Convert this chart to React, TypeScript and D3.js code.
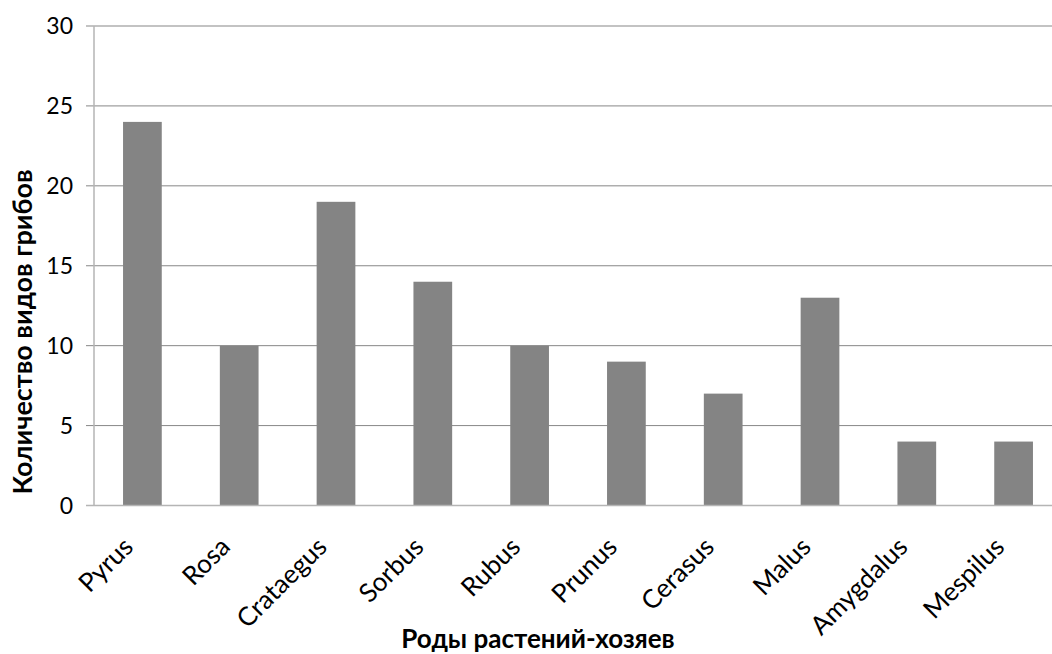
import React from "react";
import * as d3 from "d3";

const categories = ["Pyrus", "Rosa", "Crataegus", "Sorbus", "Rubus", "Prunus", "Cerasus", "Malus", "Amygdalus", "Mespilus"];
const values = [24, 10, 19, 14, 10, 9, 7, 13, 4, 4];
const yTicks = [0, 5, 10, 15, 20, 25, 30];
const yTitle = "Количество видов грибов";
const xTitle = "Роды растений-хозяев";

const W = 1052;
const H = 654;
const left = 94;
const right = 1062;
const top = 26;
const bottom = 505.5;
const FONT = "Lato, 'Open Sans', sans-serif";

export default function App() {
  const x = d3.scaleBand<string>().domain(categories).range([left, right]).paddingInner(0.6).paddingOuter(0.3);
  const y = d3.scaleLinear().domain([0, 30]).range([bottom, top]);
  return (
    <div style={{ position: "absolute", left: 0, top: 0 }}>
      <svg width={W} height={H} style={{ display: "block", background: "#fff" }}>
        {yTicks.map((t) => (
          <g key={t}>
            {t > 0 && <line x1={left} x2={right} y1={y(t)} y2={y(t)} stroke="#878787" strokeWidth={1} />}
            <line x1={86} x2={left} y1={y(t)} y2={y(t)} stroke="#878787" strokeWidth={1} />
            <text x={73} y={y(t)} dy="0.36em" textAnchor="end" fontFamily={FONT} fontSize={23} fill="#000">{t}</text>
          </g>
        ))}
        {categories.map((c, i) => (
          <rect key={c} x={x(c)} y={y(values[i])} width={x.bandwidth()} height={bottom - y(values[i])} fill="#848484" />
        ))}
        <line x1={left} x2={left} y1={top} y2={bottom} stroke="#b5b5b5" strokeWidth={1.5} />
        <line x1={86} x2={right} y1={bottom} y2={bottom} stroke="#b5b5b5" strokeWidth={1.5} />
        {categories.map((c) => {
          const cx = (x(c) as number) + x.bandwidth() / 2 - 14;
          const cy = 542;
          return (
            <text key={c} x={cx} y={cy} textAnchor="end" dy="0.35em" transform={`rotate(-45 ${cx} ${cy})`} fontFamily={FONT} fontSize={26} fill="#000">{c}</text>
          );
        })}
        <text x={538} y={648} textAnchor="middle" fontFamily={FONT} fontWeight="bold" fontSize={26} fill="#000">{xTitle}</text>
        <text transform={`translate(32 ${332}) rotate(-90)`} textAnchor="middle" fontFamily={FONT} fontWeight="bold" fontSize={27} fill="#000">{yTitle}</text>
      </svg>
    </div>
  );
}
